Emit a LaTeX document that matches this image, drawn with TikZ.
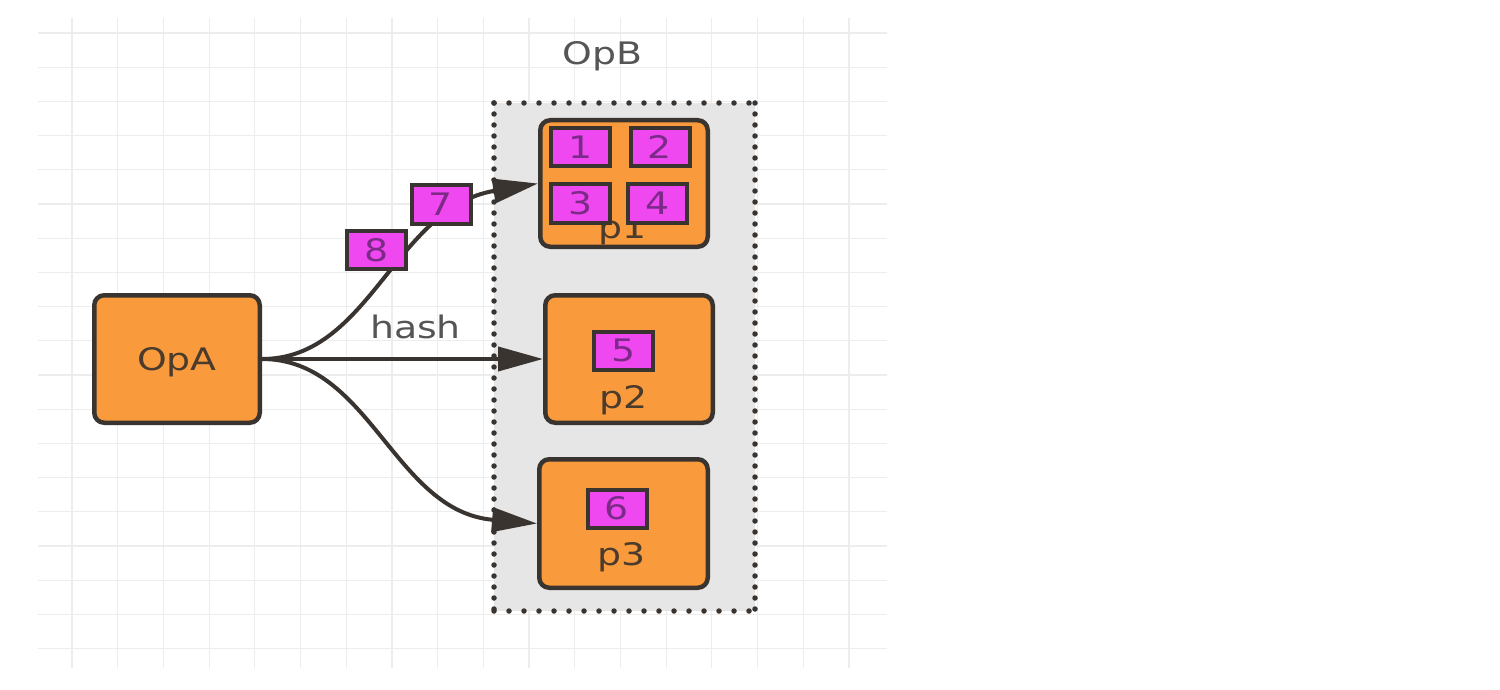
\documentclass[tikz,border=0pt]{standalone}
\usepackage{fontspec}
\setmainfont{DejaVu Sans}[FakeStretch=1.22]
\usetikzlibrary{arrows.meta}
\definecolor{gridc}{HTML}{EDEDED}
\definecolor{orangef}{HTML}{F99A3C}
\definecolor{magf}{HTML}{F048F0}
\definecolor{edgec}{HTML}{3A3430}
\definecolor{boxgray}{HTML}{E6E6E6}
\definecolor{labc}{HTML}{555555}
\definecolor{numc}{HTML}{7B2A88}
\definecolor{optxt}{HTML}{4A3B2C}
\begin{document}
\begin{tikzpicture}[x=1pt,y=-1pt,
  txt/.style={font=\fontsize{31}{36}\selectfont, inner sep=0pt},
  gridline/.style={draw=gridc, line width=1.2pt},
  container/.style={fill=boxgray, inner sep=0pt, outer sep=0pt},
  dotsh/.style={draw=edgec, line width=5.5pt, line cap=round, dash pattern=on 0pt off 15pt},
  dotsv/.style={draw=edgec, line width=5.5pt, line cap=round, dash pattern=on 0pt off 11pt},
  opbox/.style={draw=edgec, line width=4.5pt, fill=orangef, rounded corners=10pt, inner sep=0pt, txt, text=optxt},
  mbox/.style={draw=edgec, line width=4pt, fill=magf, inner sep=0pt, minimum width=59pt, minimum height=38pt, txt, text=numc},
  conn/.style={draw=edgec, line width=4pt, -{Triangle[length=45pt,width=24pt]}},
  ]
\useasboundingbox[fill=white] (0,0) rectangle (1500,690);
% grid
\foreach \i in {0,...,17} \draw[gridline] ({72+45.7*\i},18) -- ({72+45.7*\i},668);
\foreach \j in {0,...,18} \draw[gridline] (38,{33+34.2*\j}) -- (887,{33+34.2*\j});
% container OpB
\node[container, minimum width=261pt, minimum height=508pt] (opb) at (624.5,357) {};
\draw[dotsh] (opb.north west) -- (opb.north east);
\draw[dotsh] (opb.south west) -- (opb.south east);
\draw[dotsv] (opb.north west) -- (opb.south west);
\draw[dotsv] (opb.north east) -- (opb.south east);
\node[txt, text=labc, anchor=base] (opbl) at (602.5,65) {OpB};
% boxes
\node[opbox, minimum width=165.5pt, minimum height=127.5pt, text depth=0pt] (opa) at (177,359) {OpA};
\node[opbox, minimum width=167.5pt, minimum height=126.5pt] (p1) at (624,183.5) {};
\node[opbox, minimum width=167.5pt, minimum height=127.5pt] (p2) at (629,359) {};
\node[opbox, minimum width=168.5pt, minimum height=128.5pt] (p3) at (623.5,523.5) {};
% connectors
\draw[conn] (opa.east) .. controls +(108,0) and +(-143,24) .. (p1.west);
\draw[conn] (opa.east) -- (p2.west);
\draw[conn] (opa.east) .. controls +(108,0) and +(-143,-12) .. (p3.west);
\node[txt, text=labc, anchor=base] (hash) at (415.5,338) {hash};
% labels inside partitions
\node[txt, text=optxt, anchor=base] (p1l) at (622.5,238) {p1};
\node[txt, text=optxt, anchor=base] (p2l) at (623.5,408) {p2};
\node[txt, text=optxt, anchor=base] (p3l) at (622,565) {p3};
% records
\node[mbox] (m1) at (580.5,147) {1};
\node[mbox] (m2) at (660,147) {2};
\node[mbox] (m3) at (580.5,203.5) {3};
\node[mbox] (m4) at (657.5,203.5) {4};
\node[mbox] (m5) at (623.5,350.5) {5};
\node[mbox] (m6) at (617,508.5) {6};
\node[mbox] (m7) at (441,204.5) {7};
\node[mbox] (m8) at (376.5,250) {8};
\end{tikzpicture}
\end{document}
